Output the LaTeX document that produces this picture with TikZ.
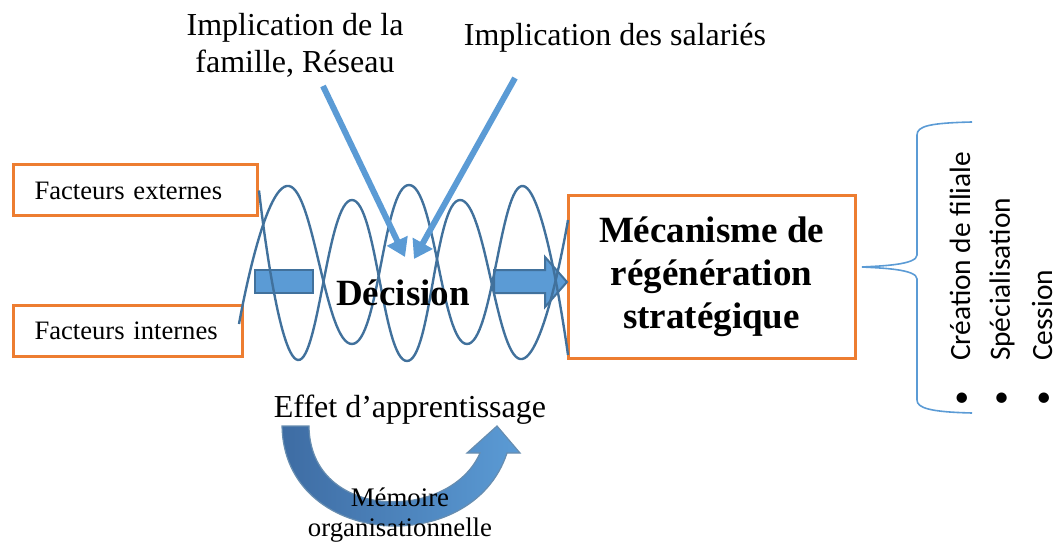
\documentclass[tikz,border=0pt]{standalone}
\usepackage{fontspec}
\setmainfont{Liberation Serif}
\newfontfamily\calibri{Carlito}
\definecolor{boxorange}{RGB}{237,125,49}
\definecolor{lightblue}{RGB}{91,155,213}
\definecolor{waveblue}{RGB}{65,113,156}
\definecolor{deepblue}{RGB}{62,108,163}
\usetikzlibrary{positioning,shapes,arrows.meta,calc}

\begin{document}
\begin{tikzpicture}[x=0.5pt,y=-0.5pt,
    factor/.style={draw=boxorange,line width=1.5pt,align=left,inner xsep=10.5pt,minimum height=25.5pt,anchor=west,font=\fontsize{13.3}{15}\selectfont},
    wave/.style={draw=waveblue,line width=1.2pt},
    implic/.style={draw=lightblue,line width=3pt,-{Triangle[length=9pt,width=11pt]}},
    bigtext/.style={font=\fontsize{16}{18.5}\selectfont,align=center},
    boldtext/.style={font=\bfseries\fontsize{18.5}{21.5}\selectfont,align=center},
    vert/.style={rotate=90,anchor=west,inner sep=0pt,font=\calibri\fontsize{14.7}{17}\selectfont}]
  \useasboundingbox (0,0) rectangle (1059,545);

  % factors and result
  \node[factor,text width=101pt] (ext) at (12,190.5) {Facteurs externes};
  \node[factor,text width=93.5pt] (int) at (12,330.5) {Facteurs internes};
  \node[boldtext,draw=boxorange,line width=1.5pt,minimum width=143.5pt,minimum height=81pt] (meca) at (711.5,277) {Mécanisme de\\régénération\\stratégique};

  % blue arrows through the decision
  \node[fill=lightblue,draw=waveblue,line width=1pt,minimum width=29pt,minimum height=11.5pt,inner sep=0pt] (inbar) at (284,281.5) {};
  \draw[fill=lightblue,draw=waveblue,line width=1pt] (494,270) -- (545,270) -- (545,257) -- (567,282) -- (545,307) -- (545,293) -- (494,293) -- cycle;

  % spiral
  \coordinate (wa) at (568,355);
  \coordinate (wb) at (568,220);
  \draw[wave] plot[smooth,tension=0.8] coordinates {(ext.east) (298,360) (352,200) (407,361) (460,200) (520,359) (wb)};
  \draw[wave] plot[smooth,tension=0.8] coordinates {(239,324) (289,186) (352,344) (409,185) (467,344) (523,186) (wa)};

  \node[boldtext] (dec) at (403,293) {Décision};

  % implications
  \node[bigtext] (imfam) at (295,45) {Implication de la\\famille, Réseau};
  \node[bigtext] (imsal) at (615,38) {Implication des salariés};
  \coordinate (famstart) at (323,86);
  \coordinate (famtip) at (405,257);
  \coordinate (salstart) at (515,78);
  \coordinate (saltip) at (414,259);
  \draw[implic] (famstart) -- (famtip);
  \draw[implic] (salstart) -- (saltip);

  % learning loop
  \node[bigtext] (effet) at (410,410) {Effet d’apprentissage};
  \shadedraw[left color=deepblue,right color=lightblue,draw=waveblue!80,line width=0.6pt] (282,426) .. controls (284,548) and (472,560) .. (507,453) -- (520,453) -- (497,426) -- (467,453) -- (480,453) .. controls (450,522) and (310,522) .. (309,426) -- cycle;
  \node[align=center,font=\fontsize{13.4}{15}\selectfont] (memo) at (400,515) {Mémoire\\organisationnelle};

  % brace and list
  \coordinate (brtip) at (862,267);
  \draw[lightblue,line width=0.8pt] (972,122) .. controls (930,123) and (917,126) .. (917,135) -- (917,255) .. controls (917,265) and (880,266) .. (brtip) .. controls (880,268) and (917,269) .. (917,279) -- (917,400) .. controls (917,408) and (930,412) .. (972,413);
  \node[vert] (crea) at (960,406) {•\hspace{15pt}Création de filiale};
  \node[vert] (spec) at (1002,406) {•\hspace{15pt}Spécialisation};
  \node[vert] (cess) at (1042,406) {•\hspace{15pt}Cession};
\end{tikzpicture}
\end{document}
